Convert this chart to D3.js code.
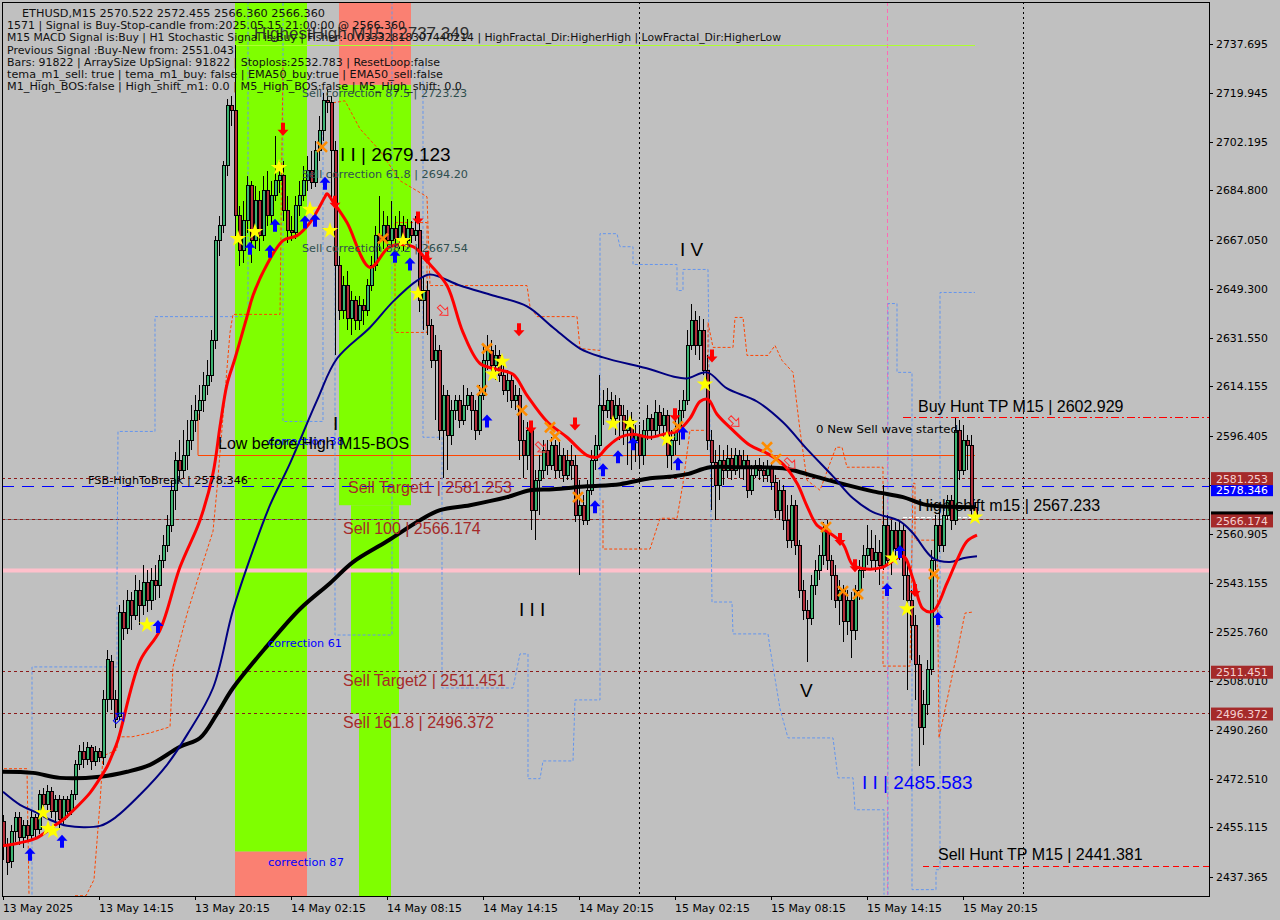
<!DOCTYPE html>
<html><head><meta charset="utf-8">
<script src="https://cdn.jsdelivr.net/npm/d3@7/dist/d3.min.js"></script>
<style>
html,body{margin:0;padding:0;background:#c0c0c0;}
svg{display:block;}
</style></head>
<body><svg id="chart" width="1280" height="920"></svg>
<script>
// ETHUSD M15 candles, 13 May 08:15 .. 15 May 21:00 (bar index 0..243)
const timeTickBars = [0,24,48,72,96,120,144,168,192,216,240];
const timeTickLabels = ["13 May 2025","13 May 14:15","13 May 20:15","14 May 02:15","14 May 08:15","14 May 14:15","14 May 20:15","15 May 02:15","15 May 08:15","15 May 14:15","15 May 20:15"];
const priceTicks = [2737.695,2719.945,2702.195,2684.800,2667.050,2649.300,2631.550,2614.155,2596.405,2578.655,2560.905,2543.155,2525.760,2508.010,2490.260,2472.510,2455.115,2437.365];
const daySeparatorBars = [63,159,255];
const eventBars = [221];

const openP = [
2457.2,2448.9,2442.8,2453.6,2458.6,2451.4,2455.7,2452.1,2458.6,2454.3,
2466.9,2463.3,2468.0,2460.8,2465.1,2457.9,2465.1,2460.8,2466.9,2477.7,
2482.4,2479.5,2483.8,2478.8,2482.4,2480.2,2501.1,2514.8,2501.1,2495.3,
2532.8,2527.0,2537.1,2531.7,2540.7,2535.3,2543.6,2537.1,2544.3,2542.5,
2551.5,2556.9,2564.1,2576.7,2587.5,2583.9,2589.3,2594.7,2601.9,2605.5,
2609.1,2614.5,2618.1,2630.7,2666.7,2672.1,2693.7,2715.3,2713.5,2675.7,
2663.1,2673.9,2686.5,2666.7,2681.1,2668.5,2684.7,2675.7,2682.9,2688.3,
2690.1,2677.5,2670.3,2669.6,2679.3,2682.9,2688.3,2691.9,2687.6,2699.1,
2706.3,2717.1,2716.4,2699.1,2657.7,2641.5,2650.5,2638.6,2645.1,2637.9,
2643.3,2641.5,2650.5,2657.7,2668.5,2666.7,2672.1,2666.7,2671.0,2667.4,
2672.1,2666.7,2671.0,2668.5,2670.3,2645.1,2648.7,2636.1,2623.5,2627.1,
2598.3,2610.9,2596.5,2605.5,2609.1,2601.9,2607.3,2610.9,2605.5,2598.3,
2610.9,2623.5,2627.1,2621.7,2625.3,2618.1,2612.7,2616.3,2609.1,2610.9,
2594.7,2589.3,2598.3,2569.5,2580.3,2583.9,2591.1,2585.7,2592.9,2583.9,
2589.3,2582.1,2587.5,2585.7,2567.7,2571.3,2565.9,2576.7,2587.5,2592.9,
2607.3,2605.5,2609.1,2602.6,2607.3,2603.7,2598.3,2601.9,2594.7,2596.5,
2589.3,2598.3,2602.6,2598.3,2604.8,2600.1,2603.7,2589.3,2594.7,2598.3,
2605.5,2609.1,2628.9,2637.9,2628.9,2634.3,2619.9,2594.7,2586.8,2578.5,
2587.5,2583.9,2588.2,2583.9,2589.3,2584.6,2587.5,2576.7,2582.1,2585.7,
2583.9,2582.1,2584.6,2579.6,2569.5,2576.7,2565.9,2558.7,2571.3,2556.9,
2540.7,2533.5,2530.6,2542.5,2547.9,2553.3,2562.3,2551.5,2546.1,2537.1,
2540.7,2529.2,2537.1,2526.3,2540.7,2547.9,2553.3,2555.8,2551.5,2554.4,
2549.7,2564.1,2551.5,2562.3,2555.8,2562.3,2546.1,2537.1,2528.1,2513.7,
2491.0,2499.3,2511.9,2551.5,2564.1,2556.9,2567.7,2573.1,2565.9,2598.3,
2583.9,2594.7,2592.9,2570.522];
const highP = [
2459.7,2451.4,2456.1,2460.8,2460.8,2457.9,2457.9,2461.5,2460.1,2468.7,
2469.4,2470.5,2469.8,2466.9,2466.9,2466.5,2466.5,2468.7,2479.5,2484.9,
2485.9,2485.9,2484.9,2484.5,2483.8,2504.7,2519.1,2517.3,2504.7,2535.3,
2537.1,2540.7,2540.0,2546.1,2544.3,2549.7,2547.9,2548.6,2549.7,2553.3,
2560.5,2567.7,2580.3,2590.4,2594.7,2598.3,2601.9,2607.3,2610.9,2614.5,
2619.2,2623.5,2634.3,2668.5,2675.7,2695.5,2717.8,2718.9,2737.349,2679.3,
2681.1,2690.1,2688.3,2686.5,2684.7,2690.1,2691.9,2688.3,2704.5,2695.5,
2695.5,2682.9,2675.7,2682.9,2688.3,2693.7,2697.3,2699.1,2702.7,2711.7,
2720.0,2721.4,2718.9,2702.7,2661.3,2654.1,2655.9,2648.7,2646.9,2646.9,
2645.8,2653.0,2661.3,2672.1,2682.9,2677.5,2675.7,2681.1,2675.7,2677.5,
2675.7,2674.6,2673.9,2675.7,2673.2,2654.1,2652.3,2638.6,2632.5,2628.9,
2614.5,2612.7,2609.1,2610.9,2610.9,2614.5,2613.4,2612.0,2609.1,2614.5,
2628.9,2632.5,2630.7,2628.9,2627.1,2621.7,2619.9,2618.1,2614.5,2613.4,
2601.9,2601.2,2600.1,2583.9,2589.3,2594.7,2594.7,2595.8,2594.7,2594.0,
2591.8,2591.1,2592.9,2589.3,2580.3,2574.9,2580.3,2591.1,2596.5,2618.1,
2612.7,2613.4,2612.0,2610.9,2609.8,2607.3,2605.5,2604.8,2600.1,2600.1,
2601.9,2607.3,2604.2,2609.1,2607.3,2606.2,2605.5,2598.3,2601.9,2609.1,
2612.7,2634.3,2644.0,2641.5,2639.7,2638.6,2625.3,2598.3,2591.1,2592.9,
2591.1,2592.9,2591.8,2591.8,2591.1,2591.1,2589.3,2585.7,2587.5,2588.2,
2586.8,2587.5,2586.8,2582.1,2580.3,2578.5,2571.3,2574.9,2573.1,2558.7,
2544.3,2537.1,2546.1,2551.5,2556.9,2565.2,2565.9,2553.3,2549.7,2544.3,
2542.5,2540.7,2540.0,2542.5,2551.5,2556.9,2564.1,2562.3,2560.5,2558.7,
2578.5,2567.7,2565.9,2565.2,2565.2,2564.1,2549.7,2540.7,2531.7,2517.3,
2504.7,2515.5,2555.1,2567.7,2569.5,2570.2,2574.9,2574.9,2602.6,2601.9,
2600.1,2596.5,2596.5,2572.455];
const lowP = [
2443.5,2438.1,2440.6,2450.0,2448.9,2447.8,2450.0,2450.7,2451.4,2452.9,
2460.8,2461.5,2458.6,2457.2,2455.0,2455.7,2458.6,2459.7,2465.1,2475.9,
2476.6,2477.7,2475.9,2477.3,2478.8,2477.7,2496.8,2497.5,2491.0,2493.9,
2522.7,2524.9,2526.3,2529.9,2528.1,2531.7,2532.8,2533.5,2537.1,2537.8,
2548.6,2554.4,2561.6,2569.5,2580.3,2581.0,2583.9,2591.1,2597.6,2601.9,
2604.8,2610.9,2615.6,2627.8,2661.3,2669.6,2690.1,2708.1,2666.7,2657.7,
2658.8,2669.6,2658.8,2663.8,2663.1,2666.7,2672.1,2673.2,2681.1,2684.0,
2673.9,2666.0,2666.7,2667.4,2675.7,2681.1,2684.7,2685.4,2686.1,2695.5,
2702.7,2712.8,2681.1,2625.3,2637.9,2638.6,2634.3,2632.5,2634.3,2634.3,
2636.1,2639.7,2648.7,2655.9,2663.1,2663.8,2663.1,2664.9,2664.5,2663.8,
2663.1,2663.8,2666.0,2666.7,2640.8,2634.3,2632.5,2620.6,2601.9,2594.7,
2581.0,2583.9,2592.9,2601.9,2599.0,2600.1,2605.5,2598.3,2594.7,2596.5,
2609.1,2619.9,2618.1,2616.3,2615.6,2610.9,2608.4,2606.2,2605.5,2587.5,
2581.0,2583.9,2562.3,2558.7,2567.7,2581.0,2582.1,2583.9,2581.0,2581.0,
2579.6,2580.3,2580.3,2565.2,2546.1,2564.1,2564.1,2574.9,2583.9,2591.1,
2600.1,2602.6,2600.1,2596.5,2594.7,2592.9,2585.7,2583.9,2586.8,2584.6,
2585.7,2594.7,2594.7,2596.5,2596.5,2594.7,2584.6,2583.9,2589.3,2592.9,
2602.6,2607.3,2627.1,2625.3,2623.5,2618.1,2591.1,2569.5,2565.9,2573.1,
2578.5,2581.0,2580.3,2582.1,2581.0,2580.3,2573.8,2574.9,2581.0,2580.3,
2579.6,2579.6,2576.7,2566.6,2565.9,2562.3,2555.8,2555.8,2553.3,2537.8,
2529.9,2514.8,2528.1,2538.9,2544.3,2549.7,2547.9,2537.1,2534.2,2528.1,
2522.0,2524.5,2516.2,2522.7,2537.1,2545.0,2549.7,2547.9,2547.2,2542.5,
2547.9,2549.7,2546.1,2552.2,2551.5,2537.1,2504.7,2515.5,2501.1,2477.3,
2484.9,2495.7,2510.1,2547.9,2554.4,2554.4,2565.9,2562.3,2564.1,2580.3,
2582.1,2583.9,2567.7,2566.36];
const closeP = [
2448.9,2442.4,2453.6,2458.6,2451.4,2455.7,2452.1,2458.6,2454.3,2466.9,
2463.3,2468.0,2460.8,2465.1,2457.9,2465.1,2460.8,2466.9,2477.7,2482.4,
2479.5,2483.8,2478.8,2482.4,2480.2,2501.1,2515.5,2501.1,2493.9,2532.8,
2527.0,2537.1,2531.7,2540.7,2535.3,2543.6,2537.1,2544.3,2542.5,2551.5,
2556.9,2564.1,2576.7,2587.5,2583.9,2589.3,2594.7,2601.9,2605.5,2609.1,
2614.5,2618.1,2630.7,2666.7,2672.1,2693.7,2715.3,2713.5,2675.7,2663.1,
2673.9,2686.5,2666.7,2681.1,2668.5,2684.7,2675.7,2682.9,2688.3,2690.1,
2677.5,2670.3,2669.6,2679.3,2682.9,2688.3,2691.9,2687.6,2699.1,2706.3,
2717.1,2716.4,2699.1,2657.7,2641.5,2650.5,2638.6,2645.1,2637.9,2643.3,
2641.5,2650.5,2657.7,2668.5,2666.7,2672.1,2666.7,2671.0,2667.4,2672.1,
2666.7,2671.0,2668.5,2670.3,2645.1,2648.7,2636.1,2623.5,2627.1,2598.3,
2610.9,2596.5,2605.5,2609.1,2601.9,2607.3,2610.9,2605.5,2598.3,2610.9,
2623.5,2627.1,2621.7,2625.3,2618.1,2612.7,2616.3,2609.1,2610.9,2594.7,
2589.3,2598.3,2569.5,2580.3,2583.9,2591.1,2585.7,2592.9,2583.9,2589.3,
2582.1,2587.5,2585.7,2567.7,2571.3,2565.9,2576.7,2587.5,2592.9,2607.3,
2605.5,2609.1,2602.6,2607.3,2603.7,2598.3,2601.9,2594.7,2596.5,2589.3,
2598.3,2602.6,2598.3,2604.8,2600.1,2603.7,2589.3,2594.7,2598.3,2605.5,
2609.1,2628.9,2637.9,2628.9,2634.3,2619.9,2594.7,2586.8,2578.5,2587.5,
2583.9,2588.2,2583.9,2589.3,2584.6,2587.5,2576.7,2582.1,2585.7,2583.9,
2582.1,2584.6,2579.6,2569.5,2576.7,2565.9,2558.7,2571.3,2556.9,2540.7,
2533.5,2530.6,2542.5,2547.9,2553.3,2562.3,2551.5,2546.1,2537.1,2540.7,
2529.2,2537.1,2526.3,2540.7,2547.9,2553.3,2555.8,2551.5,2554.4,2549.7,
2564.1,2551.5,2562.3,2555.8,2562.3,2546.1,2537.1,2528.1,2513.7,2491.0,
2499.3,2511.9,2551.5,2564.1,2556.9,2567.7,2573.1,2565.9,2598.3,2583.9,
2594.7,2592.9,2570.5,2566.36];

// moving averages as [bar, price] knots
const emaFast = [[0,2448.5],[4.25,2449.6],[8.5,2451.4],[12.5,2455.4],[15,2457.9],[18.5,2462.6],[21.75,2467.6],[23.5,2471.2],[26,2477.0],[27.5,2482.0],[28.75,2486.7],[34.25,2515.1],[39.25,2526.3],[44.25,2549.0],[49.25,2565.9],[52.5,2582.8],[54.25,2599.7],[56,2614.9],[58,2624.2],[61,2639.3],[62.5,2646.9],[66,2658.1],[70,2666.7],[73.5,2668.5],[76.75,2673.2],[80.5,2682.5],[81,2683.6],[82.5,2680.7],[86,2673.2],[91.75,2657.0],[96.75,2664.5],[102.5,2664.5],[106.75,2658.1],[111,2650.5],[115,2633.6],[119.25,2622.4],[123.5,2620.3],[127.5,2618.5],[131,2610.9],[136,2601.5],[141,2595.8],[146,2589.3],[148.5,2588.6],[151,2592.2],[154.25,2595.8],[157.5,2596.9],[161.75,2595.8],[166,2597.2],[168.5,2597.9],[171.75,2602.6],[174.25,2608.7],[176.25,2609.5],[178.5,2604.1],[182.5,2598.3],[186.75,2592.9],[191,2590.0],[195,2586.1],[198.5,2579.2],[201,2571.0],[203.5,2564.1],[206.75,2561.2],[210,2557.3],[212.5,2549.7],[216,2548.3],[220,2549.0],[225,2552.9],[227.5,2544.7],[230,2533.9],[232.5,2533.1],[236,2543.2],[238.5,2551.5],[241,2558.3],[243.5,2560.5]];
const emaMid = [[0,2468.0],[4.25,2463.3],[8.5,2460.4],[11.75,2457.9],[16,2455.7],[24.25,2455.7],[28,2458.6],[34.25,2466.9],[41,2477.7],[46,2488.5],[52.5,2505.4],[57.5,2533.5],[62.5,2555.1],[66.75,2571.3],[71.75,2586.4],[78.5,2609.1],[83.5,2624.2],[91.75,2635.4],[97.5,2644.7],[103.5,2652.3],[106.75,2654.5],[114.25,2650.5],[122.5,2646.9],[131,2643.0],[137.5,2635.4],[144.25,2627.8],[150,2624.6],[161.75,2620.3],[167.5,2617.7],[171,2617.0],[176,2619.2],[181,2613.4],[188.5,2608.7],[195,2601.2],[201,2591.5],[207.5,2581.7],[212.5,2573.8],[217.5,2568.8],[224.25,2565.5],[227.5,2561.2],[232.5,2552.2],[236.75,2550.8],[240,2552.2],[243.5,2552.9]];
const emaSlow = [[0,2475.2],[7.5,2474.8],[14.25,2473.0],[24.25,2473.4],[31,2475.2],[36.75,2477.7],[44.25,2484.2],[49.25,2487.4],[53.5,2496.1],[57.5,2505.4],[66,2520.5],[74.25,2533.9],[81.75,2543.2],[87.5,2550.8],[96,2558.3],[104.25,2565.9],[109.25,2569.5],[116.75,2571.3],[126,2574.2],[131.75,2576.7],[137.5,2577.1],[146,2578.1],[154.25,2578.9],[161.75,2581.0],[167.5,2581.7],[171,2582.5],[176.75,2585.0],[184.25,2585.0],[195,2584.6],[201,2582.5],[207.5,2579.9],[217.5,2576.3],[225,2574.2],[230,2571.7],[234.25,2570.9],[243,2570.6]];

// channel step lines as [bar, price] vertices
const channelBlue = [
 [[7.25,2430.9],[7.25,2513.0],[28.5,2513.0],[28.5,2545.0],[28.75,2597.9],[38,2597.9],[38,2639.3],[61.25,2639.3],[61.25,2752.4]],
 [[70,2752.4],[70,2601.5],[80,2601.5],[80,2720.3]],
 [[83,2676.8],[83,2524.5],[97.25,2524.5],[97.25,2752.4]],
 [[105,2731.5],[105,2595.8],[109.75,2595.8],[109.75,2505.4],[127.5,2505.4],[129.25,2517.7],[131.25,2517.7],[131.25,2472.7],[134.25,2472.7],[135,2479.1],[142.5,2479.1],[143,2501.1],[149.25,2501.1],[149.25,2669.2],[153.5,2669.2],[154.25,2664.5],[157.5,2664.5],[157.5,2658.1],[168.5,2658.1],[168.5,2648.7],[170,2648.7],[170,2656.3],[176.25,2656.3],[177.25,2536.4],[182.25,2536.4],[182.5,2524.9],[191.25,2524.9],[191.75,2519.8],[194.25,2497.9],[196.25,2487.4],[207.5,2487.4],[208.75,2473.0],[212.5,2473.0],[213,2461.5],[220.25,2461.5],[220.25,2430.9]],
 [[221.25,2430.9],[221.25,2644.0],[223.5,2644.0],[223.5,2619.2],[227.25,2619.2],[227.25,2432.7],[233.25,2432.7],[233.25,2439.9],[234.25,2439.9],[234.25,2648.0],[243,2648.0]]
];
const channelOrange = [
 [[0.25,2476.3],[6,2476.3],[6.5,2430.9]],
 [[18,2430.5],[20.75,2430.5],[22.75,2436.3],[24.25,2464.0],[25,2480.9],[28.5,2483.1],[28.75,2487.8],[32.25,2487.8],[36.75,2489.2],[41.75,2491.4],[42.5,2513.0],[46,2532.1],[49.25,2547.2],[52.5,2561.9],[53.5,2577.1],[56.75,2633.6],[57.5,2640.1],[69.25,2640.1],[70,2731.5]],
 [[82.5,2716.4],[85.5,2717.1],[89.25,2707.0],[94.25,2699.1],[99.25,2688.3],[106,2682.5],[106.75,2650.5],[131,2650.5],[131.75,2642.9],[133.5,2639.3],[143.5,2639.3],[144.25,2627.8],[149.25,2627.1]],
 [[98,2673.2],[106,2673.2],[106,2633.6],[98,2633.6],[98,2673.2]],
 [[150,2573.1],[150,2555.5],[161.75,2555.5],[164.25,2566.6],[168.5,2566.6],[170,2579.2],[171.75,2598.3],[176.25,2598.3],[176.25,2637.2],[177.5,2628.2],[182.5,2628.2],[183,2639.0],[185,2639.0],[186,2625.3],[191.25,2625.3],[193,2628.9],[194.75,2623.5],[197.5,2619.2],[199.25,2598.3],[201,2580.3],[204.25,2576.7],[208.25,2592.2],[209.75,2592.2],[211,2585.0],[220,2585.0],[220,2513.3],[226.75,2513.3],[227.5,2579.2],[228,2579.2],[228,2558.7],[233.5,2558.7],[234,2487.4],[238.5,2518.0],[240.5,2532.4],[242.5,2532.8]]
];

// correction zones [bar from, bar to, price low, price high]
const greenZones = [[58,76,2446.4,2752.73],[84,102,2571.3,2722.9],[87,99,2496.1,2571.3],[89,97,2430.41,2496.1]];
const salmonZones = [[58,76,2430.41,2446.4],[84,102,2722.9,2752.73]];

// signal markers [bar, price]
const stars = [[10,2460.4],[11.25,2454.7],[12.5,2453.9],[36,2528.1],[58.75,2667.4],[63,2669.9],[69,2693.0],[76.75,2677.9],[81.75,2670.3],[100,2666.7],[103.75,2647.6],[122.5,2618.5],[124.75,2623.1],[152.5,2600.8],[156.75,2600.8],[166,2595.1],[175.5,2614.9],[222.5,2552.2],[226,2533.9],[243,2567.0]];
const crosses = [[79.75,2700.5],[95,2667.4],[121,2627.8],[119.75,2612.7],[129.75,2605.5],[136.75,2599.4],[138,2596.1],[143.75,2574.2],[168.75,2599.7],[191,2592.2],[193.25,2587.9],[205.75,2563.4],[210,2540.3],[213.75,2539.3],[232.75,2546.5]];
const buyArrows = [[6.75,2445.3],[14.75,2450.0],[38.75,2527.4],[61.75,2663.8],[66.75,2662.7],[68,2672.1],[75.5,2673.2],[78,2673.9],[80.5,2687.2],[98,2660.9],[101.75,2658.1],[121,2601.5],[148,2570.6],[150,2583.9],[153.75,2588.6],[157.5,2593.3],[168.75,2586.1],[170,2597.2],[221,2540.7],[224.25,2554.4],[233.75,2530.3]];
const sellArrows = [[70,2707.0],[83,2680.7],[103.75,2675.0],[106,2660.9],[129,2634.7],[132,2599.7],[143,2600.8],[168,2604.1],[177.25,2625.3],[209.25,2559.1],[213,2549.7],[228,2540.7]];
const exitArrows = [[110,2641.5],[134.5,2592.2],[182.75,2601.5],[196.75,2586.4]];
const entryArrows = [[29,2494.6]];

// price levels
const sellLevels = [2581.253,2566.174,2511.451,2496.372];
const sellLevelNames = ["Sell Target1","Sell 100","Sell Target2","Sell 161.8"];
const fsbHighToBreak = 2578.346;
const buyHuntTP = 2602.929;
const sellHuntTP = 2441.381;
const highShiftM15 = 2567.233;
const highestHigh = 2737.349;
const lowBeforeHigh = 2589.3;
const prevSignalLevel = 2547.9;
const bidPrice = 2566.36;

const commentLines = [
 "ETHUSD,M15  2570.522 2572.455 2566.360 2566.360",
 "1571 | Signal is Buy-Stop-candle from:2025.05.15 21:00:00 @ 2566.360",
 "M15 MACD Signal is:Buy | H1 Stochastic Signal is:Buy | Fisher:-0.03332818307440214 | HighFractal_Dir:HigherHigh | LowFractal_Dir:HigherLow",
 "Previous Signal :Buy-New from: 2551.043",
 "Bars: 91822 | ArraySize UpSignal: 91822 | Stoploss:2532.783 | ResetLoop:false",
 "tema_m1_sell: true | tema_m1_buy: false | EMA50_buy:true | EMA50_sell:false",
 "M1_High_BOS:false | High_shift_m1: 0.0 | M5_High_BOS:false | M5_High_shift: 0.0"
];

// ---------- drawing ----------
const svg = d3.select("#chart");
const L = 2, R = 1209, T = 2, B = 896;
const x = d3.scaleLinear().domain([0, 243]).range([3, 975]);
const y = d3.scaleLinear().domain([2430.41, 2752.73]).range([B, T]);
const SANS = "'Liberation Sans', Arial, sans-serif";
const TAHO = "'DejaVu Sans', Verdana, sans-serif";

svg.append("rect").attr("width", 1280).attr("height", 920).attr("fill", "#c0c0c0");
svg.append("defs").append("clipPath").attr("id", "plotClip")
  .append("rect").attr("x", L).attr("y", T).attr("width", R - L).attr("height", B - T);
const plot = svg.append("g").attr("clip-path", "url(#plotClip)");

// day separators and event line
plot.selectAll(".daysep").data(daySeparatorBars).join("line")
  .attr("x1", d => Math.round(x(d)) + 0.5).attr("x2", d => Math.round(x(d)) + 0.5)
  .attr("y1", T).attr("y2", B).attr("stroke", "#000").attr("stroke-dasharray", "2,3");

// zones
const zoneRect = (sel, color) => sel.join("rect")
  .attr("x", d => x(d[0])).attr("width", d => x(d[1]) - x(d[0]))
  .attr("y", d => y(d[3])).attr("height", d => y(d[2]) - y(d[3]))
  .attr("fill", color);
zoneRect(plot.selectAll(".gz").data(greenZones), "#7fff00");
zoneRect(plot.selectAll(".sz").data(salmonZones), "#fa8072");

plot.selectAll(".evt").data(eventBars).join("line")
  .attr("x1", d => Math.round(x(d)) + 0.5).attr("x2", d => Math.round(x(d)) + 0.5)
  .attr("y1", T).attr("y2", B).attr("stroke", "#ff69b4").attr("stroke-dasharray", "4,3");

// horizontal levels
const hline = (p, x1, x2, color, dash, w) => plot.append("line")
  .attr("x1", x1).attr("x2", x2).attr("y1", Math.round(y(p)) + 0.5).attr("y2", Math.round(y(p)) + 0.5)
  .attr("stroke", color).attr("stroke-width", w || 1).attr("stroke-dasharray", dash);

hline(prevSignalLevel, L, R, "#ffc0cb", null, 4);
hline(bidPrice, L, R, "#808080", null, 1);
sellLevels.forEach(p => hline(p, L, R, "#8b1a1a", "3,3", 1));
hline(fsbHighToBreak, L, R, "#0000ff", "12,8", 1);
hline(highestHigh, x(58), x(243), "#adff2f", null, 1);
hline(buyHuntTP, x(225), R, "#ff0000", "8,3,2,3", 1);
hline(sellHuntTP, x(230), R, "#ff0000", "6,4", 1);
hline(highShiftM15, x(225), x(242), "#ffffff", "4,2", 1);
hline(lowBeforeHigh, x(48.75), x(243), "#ff4500", null, 1);
plot.append("line").attr("x1", x(48.75)).attr("x2", x(48.75))
  .attr("y1", y(2604.3)).attr("y2", y(lowBeforeHigh)).attr("stroke", "#ff4500");

// channel step lines
const stepLine = d3.line().x(d => x(d[0])).y(d => y(d[1]));
plot.selectAll(".chb").data(channelBlue).join("path")
  .attr("d", stepLine).attr("fill", "none").attr("stroke", "#6495ed").attr("stroke-dasharray", "3,2");
plot.selectAll(".cho").data(channelOrange).join("path")
  .attr("d", stepLine).attr("fill", "none").attr("stroke", "#ff4500").attr("stroke-dasharray", "3,2");

// candles
const bars = d3.range(openP.length).map(i => ({i, o: openP[i], h: highP[i], l: lowP[i], c: closeP[i]}));
const cg = plot.append("g").attr("shape-rendering", "crispEdges");
cg.selectAll(".wick").data(bars).join("line")
  .attr("x1", d => Math.round(x(d.i)) + 0.5).attr("x2", d => Math.round(x(d.i)) + 0.5)
  .attr("y1", d => y(d.h)).attr("y2", d => y(d.l)).attr("stroke", "#000");
cg.selectAll(".body").data(bars).join("rect")
  .attr("x", d => Math.round(x(d.i)) - 1).attr("width", 3)
  .attr("y", d => y(Math.max(d.o, d.c)))
  .attr("height", d => Math.max(1, Math.abs(y(d.o) - y(d.c))))
  .attr("fill", d => d.c >= d.o ? "#3cb371" : "#b22d3a")
  .attr("stroke", "#000").attr("stroke-width", 1);

// moving averages
const smooth = d3.line().x(d => x(d[0])).y(d => y(d[1])).curve(d3.curveCatmullRom.alpha(0.5));
plot.append("path").attr("d", smooth(emaSlow)).attr("fill", "none").attr("stroke", "#000").attr("stroke-width", 4);
plot.append("path").attr("d", smooth(emaMid)).attr("fill", "none").attr("stroke", "#000080").attr("stroke-width", 2);
plot.append("path").attr("d", smooth(emaFast)).attr("fill", "none").attr("stroke", "#ff0000").attr("stroke-width", 3);

// markers
const starPath = d3.symbol(d3.symbolStar, 85)();
plot.selectAll(".star").data(stars).join("path").attr("d", starPath)
  .attr("transform", d => `translate(${x(d[0])},${y(d[1])})`).attr("fill", "#ffff00");
const xPath = "M-5,-5L5,5M5,-5L-5,5";
plot.selectAll(".cross").data(crosses).join("path").attr("d", xPath)
  .attr("transform", d => `translate(${x(d[0])},${y(d[1])})`)
  .attr("stroke", "#ff8c00").attr("stroke-width", 2.6).attr("fill", "none");
const upPath = "M0,-7L5.5,-1L2,-1L2,6L-2,6L-2,-1L-5.5,-1Z";
plot.selectAll(".buy").data(buyArrows).join("path").attr("d", upPath)
  .attr("transform", d => `translate(${x(d[0])},${y(d[1])})`).attr("fill", "#0000ff");
plot.selectAll(".sell").data(sellArrows).join("path").attr("d", upPath)
  .attr("transform", d => `translate(${x(d[0])},${y(d[1])}) rotate(180)`).attr("fill", "#ff0000");
plot.selectAll(".exit").data(exitArrows).join("path").attr("d", upPath)
  .attr("transform", d => `translate(${x(d[0])},${y(d[1])}) rotate(135)`)
  .attr("fill", "none").attr("stroke", "#ff3030").attr("stroke-width", 1);
plot.selectAll(".entry").data(entryArrows).join("path").attr("d", upPath)
  .attr("transform", d => `translate(${x(d[0])},${y(d[1])}) rotate(45)`)
  .attr("fill", "none").attr("stroke", "#0000ff").attr("stroke-width", 1);

// chart annotations
const note = (t, px, py, size, color, font, width) => {
  const el = svg.append("text").attr("x", px).attr("y", py).text(t)
    .attr("font-family", font || SANS).attr("font-size", size).attr("fill", color);
  if (width) el.attr("textLength", width).attr("lengthAdjust", "spacingAndGlyphs");
  return el;
};
const slate = "#2f4f4f", brown = "#a52a2a";
note("Sell correction 87.5 | 2723.23", 302, 97, 11, slate, TAHO, 165);
note("Sell correction 61.8 | 2694.20", 302, 178, 11, slate, TAHO, 166);
note("Sell correction 38.2 | 2667.54", 302, 252, 11, slate, TAHO, 166);
note("correction 38", 268, 445, 11, "#0000ff", TAHO, 76);
note("correction 61", 268, 647, 11, "#0000ff", TAHO, 74);
note("correction 87", 268, 866, 11, "#0000ff", TAHO, 76);
note("FSB-HighToBreak | 2578.346", 88, 484, 11, "#000", TAHO, 160);
note("0 New Sell wave started", 816, 433, 11, "#000", TAHO, 142);
note("Low before High  M15-BOS", 218, 449, 16, "#000");
sellLevels.forEach((p, k) => note(`${sellLevelNames[k]} | ${p.toFixed(3)}`, k === 0 ? 348 : 343, Math.round(y(p)) + 15, 16, brown));
note("I I | 2679.123", 340, 161, 19, "#000");
note("I", 333, 430, 19, "#000");
note("I I I", 519, 616, 19, "#000");
note("I V", 680, 256, 19, "#000");
note("V", 800, 697, 19, "#000");
note("I I | 2485.583", 862, 789, 19, "#0000ff");
note(`Buy Hunt TP M15 | ${buyHuntTP}`, 918, 412, 16, "#000");
note(`High shift m15 | ${highShiftM15}`, 918, 511, 16, "#000");
note(`Sell Hunt TP M15 | ${sellHuntTP}`, 938, 860, 16, "#000");
note(`HighestHigh M15 | ${highestHigh}`, 254, 39, 17, "#303030");

// info panel
const commentWidths = [303, 398, 774, 227, 433, 436, 455];
commentLines.forEach((t, k) => note(t, k === 0 ? 22 : 7, 17 + k * 12.2, 11, "#111", TAHO, commentWidths[k]));

// frame
svg.append("rect").attr("x", L + 0.5).attr("y", T + 0.5).attr("width", R - L).attr("height", B - T)
  .attr("fill", "none").attr("stroke", "#000");

// price axis
const ax = svg.append("g");
ax.selectAll(".pt").data(priceTicks).join("line")
  .attr("x1", R).attr("x2", R + 4).attr("y1", d => Math.round(y(d)) + 0.5).attr("y2", d => Math.round(y(d)) + 0.5)
  .attr("stroke", "#000");
ax.selectAll(".pl").data(priceTicks).join("text")
  .attr("x", 1216).attr("y", d => y(d) + 4).text(d => d.toFixed(3))
  .attr("font-family", TAHO).attr("font-size", 11).attr("fill", "#000")
  .attr("textLength", 52).attr("lengthAdjust", "spacingAndGlyphs");

const priceBox = (p, bg, fg, dy) => {
  const cy = y(p) + (dy || 0);
  ax.append("rect").attr("x", 1211).attr("y", cy - 6.5).attr("width", 62).attr("height", 13).attr("fill", bg);
  if (fg) ax.append("text").attr("x", 1216).attr("y", cy + 4).text(p.toFixed(3))
    .attr("font-family", TAHO).attr("font-size", 11).attr("fill", fg)
    .attr("textLength", 52).attr("lengthAdjust", "spacingAndGlyphs");
};
priceBox(bidPrice, "#000", null, -1);
priceBox(fsbHighToBreak, "#0000ff", "#ffffff", 4);
priceBox(sellLevels[0], brown, "#f4d0d0", 1);
priceBox(sellLevels[1], brown, "#f4d0d0", 1.5);
priceBox(sellLevels[2], brown, "#f4d0d0", 1);
priceBox(sellLevels[3], brown, "#f4d0d0", 1);

// time axis
ax.selectAll(".tt").data(timeTickBars).join("line")
  .attr("x1", d => Math.round(x(d)) + 0.5).attr("x2", d => Math.round(x(d)) + 0.5)
  .attr("y1", B).attr("y2", B + 4).attr("stroke", "#000");
ax.selectAll(".tl").data(timeTickBars).join("text")
  .attr("x", d => x(d)).attr("y", 912).text((d, k) => timeTickLabels[k])
  .attr("font-family", TAHO).attr("font-size", 11).attr("fill", "#000")
  .attr("textLength", (d, k) => k === 0 ? 70 : 75).attr("lengthAdjust", "spacingAndGlyphs");
</script>
</body></html>
